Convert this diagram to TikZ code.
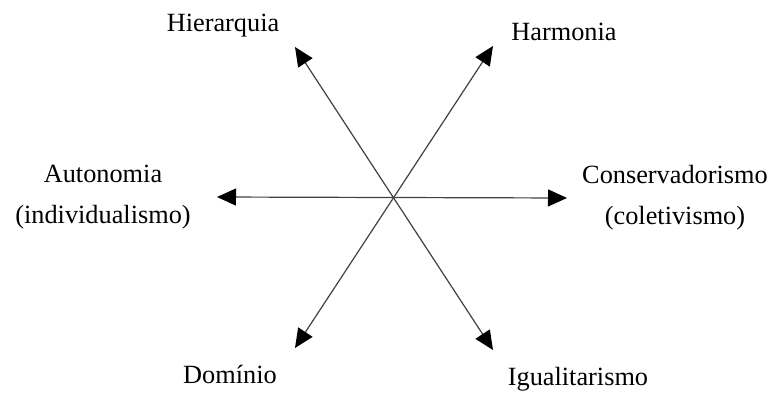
\documentclass[tikz,border=0pt]{standalone}
\usepackage{fontspec}
\setmainfont{Liberation Serif}
\usetikzlibrary{positioning,arrows.meta}

\begin{document}
\begin{tikzpicture}[
    x=1pt, y=1pt,
    value/.style={
        font=\fontsize{26.3}{32}\selectfont,
        inner sep=0pt,
        anchor=base
    },
    axis/.style={
        {Triangle[length=19pt,width=17pt,color=black]}-{Triangle[length=19pt,width=17pt,color=black]},
        line width=1.2pt,
        draw=black!75
    }
]
\useasboundingbox (0,0) rectangle (771,392);

% arrow ends
\coordinate (hierEnd) at (295,345);
\coordinate (iguaEnd) at (493,42);
\coordinate (harmEnd) at (493,346);
\coordinate (domiEnd) at (295,44);
\coordinate (autoEnd) at (217,195);
\coordinate (consEnd) at (567,194);

\node[value] (hier) at (223,360) {Hierarquia};
\node[value] (harm) at (564,352) {Harmonia};
\node[value] (auto) at (103,210) {Autonomia};
\node[value] (indiv) at ([yshift=-41pt]auto.base) {(individualismo)};
\node[value] (cons) at (675,209) {Conservadorismo};
\node[value] (colet) at ([yshift=-41pt]cons.base) {(coletivismo)};
\node[value] (domi) at (230,9) {Domínio};
\node[value] (igua) at (578,7) {Igualitarismo};

\draw[axis] (hierEnd) -- (iguaEnd);
\draw[axis] (harmEnd) -- (domiEnd);
\draw[axis] (autoEnd) -- (consEnd);

\end{tikzpicture}
\end{document}
